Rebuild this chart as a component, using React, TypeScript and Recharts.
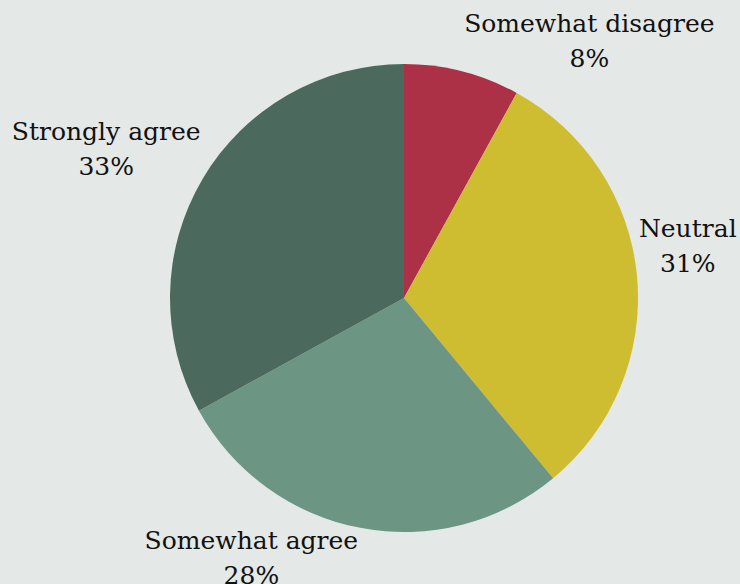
import React from 'react'
import { PieChart, Pie, Cell } from 'recharts'

const categories = ['Somewhat disagree', 'Neutral', 'Somewhat agree', 'Strongly agree']
const shares = [8, 31, 28, 33]
const sliceColors = ['#ac3046', '#cebc31', '#6d9584', '#4b6a5d']

const data = categories.map((name, i) => ({ name, value: shares[i] }))

const FONT = '"DejaVu Serif", serif'
const FONT_SIZE = 25
const LINE_H = 35
const RADIAN = Math.PI / 180

let ctx: CanvasRenderingContext2D | null = null
const measure = (s: string) => {
  if (!ctx) ctx = document.createElement('canvas').getContext('2d')
  if (!ctx) return s.length * FONT_SIZE * 0.55
  ctx.font = `${FONT_SIZE}px ${FONT}`
  return ctx.measureText(s).width
}

const renderLabel = (props: any) => {
  const { cx, cy, midAngle, outerRadius, name, value } = props
  const x = cx + outerRadius * Math.cos(-midAngle * RADIAN)
  const y = cy + outerRadius * Math.sin(-midAngle * RADIAN)
  const lines = [name, `${value}%`]
  const w = Math.max(...lines.map(measure))
  const center = x >= cx ? x + 2 + w / 2 : x - 2 - w / 2
  const firstBase = y < cy ? y - 4 - LINE_H * (lines.length - 1) : y + 21
  return (
    <text x={center} y={firstBase} textAnchor="middle" fill="#111" fontFamily={FONT} fontSize={FONT_SIZE}>
      {lines.map((l, i) => (
        <tspan key={i} x={center} y={firstBase + i * LINE_H}>{l}</tspan>
      ))}
    </text>
  )
}

export default function App() {
  return (
    <div style={{ position: 'fixed', left: 0, top: 0, width: 740, height: 584, background: '#e4e8e6' }}>
      <PieChart width={740} height={584} margin={{ top: 0, right: 0, bottom: 0, left: 0 }}>
        <Pie
          data={data}
          dataKey="value"
          nameKey="name"
          cx={404}
          cy={298}
          outerRadius={234}
          startAngle={90}
          endAngle={-270}
          stroke="none"
          label={renderLabel}
          labelLine={false}
          isAnimationActive={false}
        >
          {data.map((d, i) => (
            <Cell key={d.name} fill={sliceColors[i]} />
          ))}
        </Pie>
      </PieChart>
    </div>
  )
}
